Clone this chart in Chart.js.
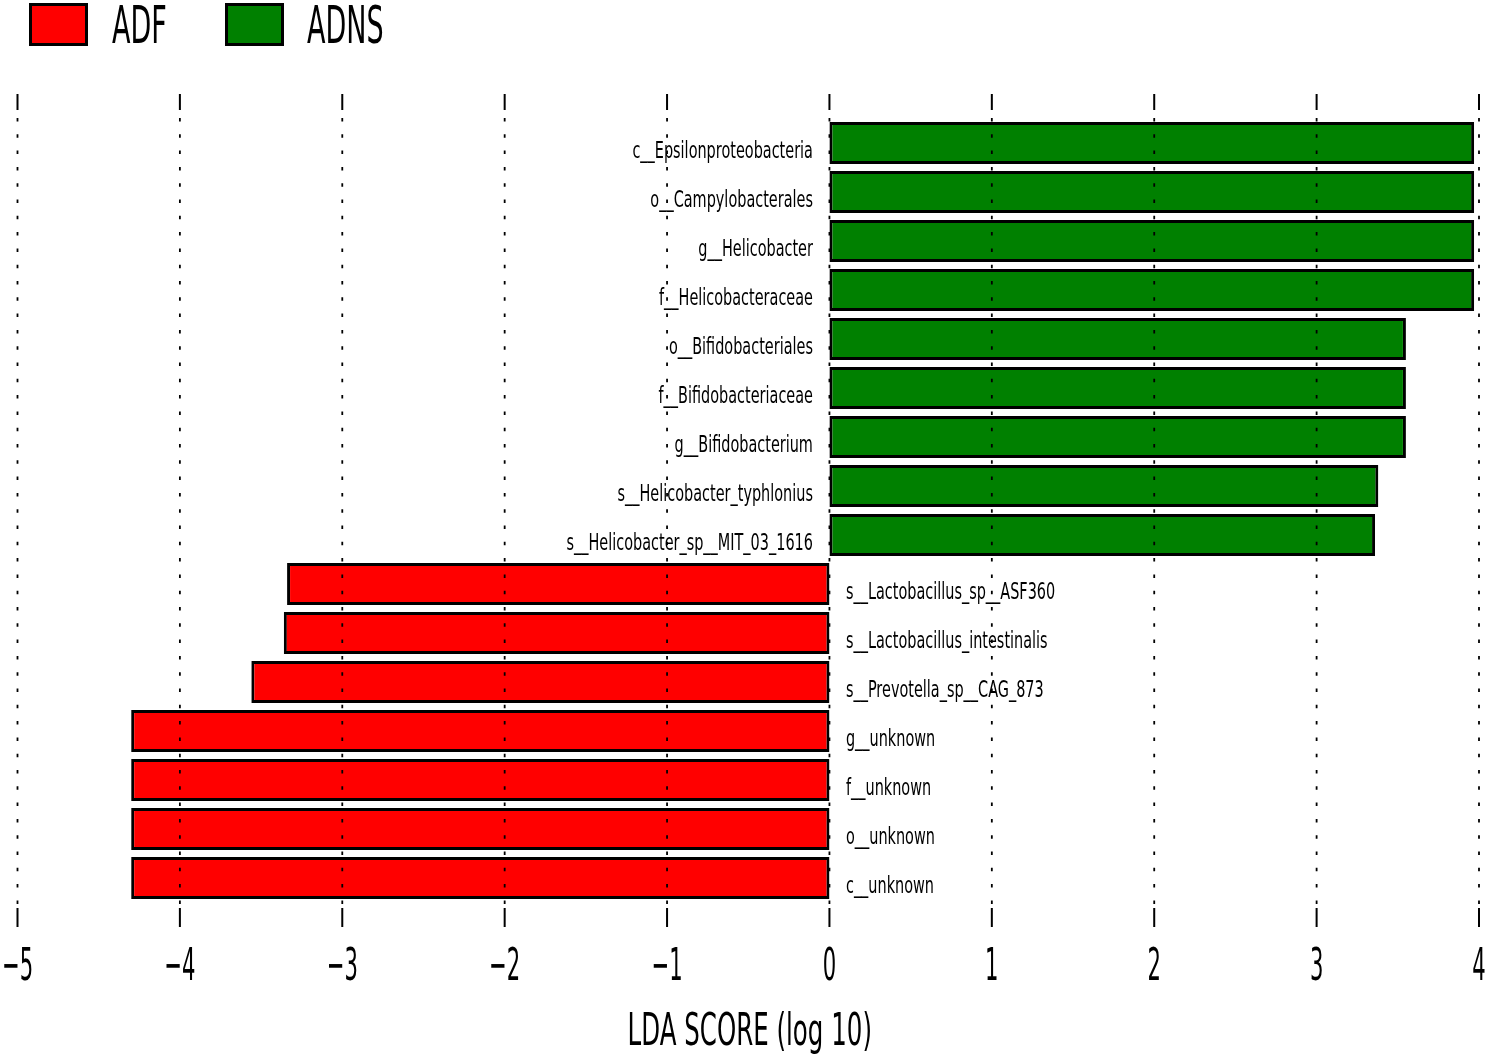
<!DOCTYPE html>
<html>
<head>
<meta charset="utf-8">
<script src="https://cdn.jsdelivr.net/npm/chart.js@4"></script>
<style>
html,body{margin:0;padding:0;background:#fff;}
#wrap{width:1488px;height:1057px;position:relative;}
</style>
</head>
<body>
<div id="wrap"><canvas id="c" width="1488" height="1057"></canvas></div>
<script>
// ---- data ----
const categories = [
  'c__Epsilonproteobacteria',
  'o__Campylobacterales',
  'g__Helicobacter',
  'f__Helicobacteraceae',
  'o__Bifidobacteriales',
  'f__Bifidobacteriaceae',
  'g__Bifidobacterium',
  's__Helicobacter_typhlonius',
  's__Helicobacter_sp__MIT_03_1616',
  's__Lactobacillus_sp__ASF360',
  's__Lactobacillus_intestinalis',
  's__Prevotella_sp__CAG_873',
  'g__unknown',
  'f__unknown',
  'o__unknown',
  'c__unknown'
];
const adnsValues = [3.97, 3.97, 3.97, 3.97, 3.55, 3.55, 3.55, 3.38, 3.36, null, null, null, null, null, null, null];
const adfValues  = [null, null, null, null, null, null, null, null, null, -3.34, -3.36, -3.56, -4.30, -4.30, -4.30, -4.30];
const xTicks = [-5, -4, -3, -2, -1, 0, 1, 2, 3, 4];
const seriesNames = ['ADF', 'ADNS'];
const axisTitle = 'LDA SCORE (log 10)';

const FONT = '"DejaVu Sans", sans-serif';

function squeezedText(ctx, text, x, y, size, sx, align) {
  ctx.save();
  ctx.font = size + 'px ' + FONT;
  ctx.textBaseline = 'alphabetic';
  const w = ctx.measureText(text).width * sx;
  let left = x;
  if (align === 'center') left = x - w / 2;
  else if (align === 'right') left = x - w;
  ctx.translate(left, y);
  ctx.scale(sx, 1);
  ctx.textAlign = 'left';
  ctx.fillStyle = '#000';
  ctx.fillText(text, 0, 0);
  ctx.restore();
}

const decorPlugin = {
  id: 'decor',
  afterDatasetsDraw(chart) {
    const ctx = chart.ctx;
    const xs = chart.scales.x;
    const ca = chart.chartArea;
    const rowH = (ca.bottom - ca.top) / categories.length;
    const topY = ca.top - rowH / 2;
    const botY = ca.bottom + rowH / 2;
    // grid lines + tick marks
    ctx.save();
    ctx.strokeStyle = '#000';
    xTicks.forEach(v => {
      const px = xs.getPixelForValue(v);
      ctx.lineWidth = 2;
      ctx.setLineDash([]);
      ctx.beginPath();
      ctx.moveTo(px, topY); ctx.lineTo(px, topY + 16);
      ctx.moveTo(px, botY - 19); ctx.lineTo(px, botY);
      ctx.stroke();
      ctx.lineWidth = 1.8;
      ctx.setLineDash([3.5, 12.8]);
      ctx.beginPath();
      ctx.moveTo(px, topY + 16 + 8); ctx.lineTo(px, botY - 19);
      ctx.stroke();
    });
    ctx.restore();
    // category labels, on the opposite side of zero
    const zero = xs.getPixelForValue(0);
    categories.forEach((lab, i) => {
      const pos = adnsValues[i] != null;
      const ds = pos ? 1 : 0;
      const bar = chart.getDatasetMeta(ds).data[i];
      const y = bar.y + 14.5;
      if (pos) squeezedText(ctx, lab, zero - 16.5, y, 23, 0.628, 'right');
      else squeezedText(ctx, lab, zero + 16.5, y, 23, 0.628, 'left');
    });
    // tick labels
    xTicks.forEach(v => {
      const px = xs.getPixelForValue(v);
      const t = v < 0 ? '\u2212' + Math.abs(v) : String(v);
      squeezedText(ctx, t, px, 980, 45, 0.47, 'center');
    });
    // axis title
    squeezedText(ctx, axisTitle, (xs.left + xs.right) / 2 + 1.5, 1045, 44, 0.557, 'center');
    // legend
    const boxes = [{x: 29, tx: 112}, {x: 225, tx: 307}];
    chart.data.datasets.forEach((d, k) => {
      const b = boxes[k];
      ctx.save();
      ctx.fillStyle = d.backgroundColor;
      ctx.strokeStyle = '#000';
      ctx.lineWidth = 3;
      ctx.fillRect(b.x, 3, 59, 43);
      ctx.strokeRect(b.x + 1.5, 4.5, 56, 40);
      ctx.restore();
      squeezedText(ctx, d.label, b.tx, 43, 52, 0.52, 'left');
    });
  }
};

new Chart(document.getElementById('c'), {
  type: 'bar',
  data: {
    labels: categories,
    datasets: [
      { label: seriesNames[0], data: adfValues, backgroundColor: '#FF0000', borderColor: '#000', borderWidth: 3, borderSkipped: false, grouped: false, barPercentage: 0.86, categoryPercentage: 1 },
      { label: seriesNames[1], data: adnsValues, backgroundColor: '#008000', borderColor: '#000', borderWidth: 3, borderSkipped: false, grouped: false, barPercentage: 0.86, categoryPercentage: 1 }
    ]
  },
  options: {
    indexAxis: 'y',
    responsive: false,
    animation: false,
    devicePixelRatio: 1,
    layout: { padding: { left: 17.5, right: 9, top: 118.5, bottom: 154.5 } },
    plugins: { legend: { display: false }, tooltip: { enabled: false } },
    scales: {
      x: { type: 'linear', min: -5, max: 4, display: false },
      y: { type: 'category', display: false, offset: true }
    }
  },
  plugins: [decorPlugin]
});
</script>
</body>
</html>
